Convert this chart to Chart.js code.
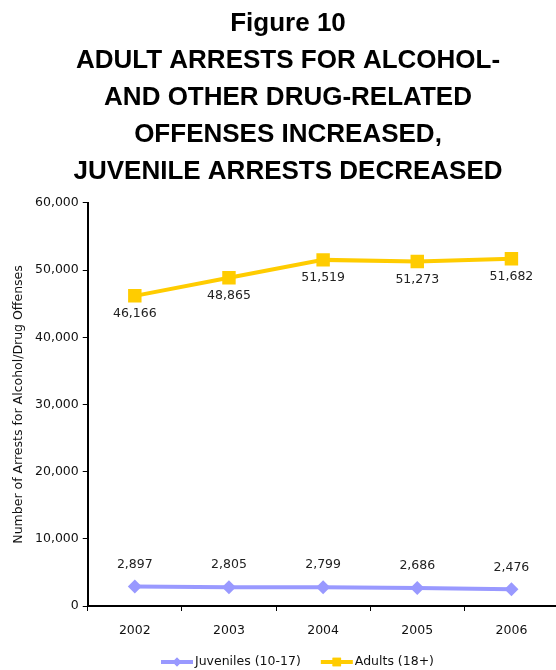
<!DOCTYPE html>
<html>
<head>
<meta charset="utf-8">
<script src="https://cdn.jsdelivr.net/npm/chart.js@4.4.1/dist/chart.umd.min.js"></script>
<style>
  html, body { margin: 0; padding: 0; background: #fff; overflow: hidden; }
  #chart { display: block; }
</style>
</head>
<body>
<canvas id="chart" width="568" height="670" style="width:568px;height:670px"></canvas>
<script>
const years = ['2002', '2003', '2004', '2005', '2006'];
const juveniles = [2897, 2805, 2799, 2686, 2476];
const adults = [46166, 48865, 51519, 51273, 51682];
const yTicks = [0, 10000, 20000, 30000, 40000, 50000, 60000];
const titleLines = ['Figure 10', 'ADULT ARRESTS FOR ALCOHOL-', 'AND OTHER DRUG-RELATED', 'OFFENSES INCREASED,', 'JUVENILE ARRESTS DECREASED'];

const FONT = "'DejaVu Sans', Verdana, sans-serif";
const fmt = v => v.toLocaleString('en-US');

// value labels: adults under the point, juveniles above
const valueLabels = {
  id: 'valueLabels',
  afterDatasetsDraw(chart) {
    const c = chart.ctx;
    c.save();
    c.font = '12.5px ' + FONT;
    c.fillStyle = '#222';
    c.textAlign = 'center';
    c.textBaseline = 'middle';
    chart.data.datasets.forEach((ds, i) => {
      const off = ds.label.startsWith('Adults') ? 18 : -22;
      chart.getDatasetMeta(i).data.forEach((pt, j) => {
        c.fillText(fmt(ds.data[j]), pt.x, pt.y + off);
      });
    });
    c.restore();
  }
};

// legend with line + marker, like the original
const lineLegend = {
  id: 'lineLegend',
  afterDraw(chart) {
    const c = chart.ctx;
    c.save();
    c.font = '12.5px ' + FONT;
    c.textBaseline = 'middle';
    let x = 161;
    const y = 662;
    chart.data.datasets.forEach(ds => {
      c.strokeStyle = ds.borderColor;
      c.lineWidth = 4;
      c.beginPath();
      c.moveTo(x, y);
      c.lineTo(x + 32, y);
      c.stroke();
      c.fillStyle = ds.borderColor;
      Chart.helpers.drawPoint(c, { pointStyle: ds.pointStyle, radius: ds.pointStyle === 'rect' ? 6 : 4.5, borderWidth: 0 }, x + 16, y);
      c.fill();
      c.fillStyle = '#111';
      c.fillText(ds.label, x + 34, y);
      x += 34 + c.measureText(ds.label).width + 20;
    });
    c.restore();
  }
};

new Chart(document.getElementById('chart'), {
  type: 'line',
  data: {
    labels: years,
    datasets: [
      {
        label: 'Juveniles (10-17)',
        data: juveniles,
        borderColor: '#9999FF',
        backgroundColor: '#9999FF',
        borderWidth: 4,
        pointStyle: 'rectRot',
        pointRadius: 7,
        pointHoverRadius: 7,
        pointBorderWidth: 0
      },
      {
        label: 'Adults (18+)',
        data: adults,
        borderColor: '#FFCC00',
        backgroundColor: '#FFCC00',
        borderWidth: 4,
        pointStyle: 'rect',
        pointRadius: 9.5,
        pointHoverRadius: 9.5,
        pointBorderWidth: 0
      }
    ]
  },
  options: {
    responsive: false,
    animation: false,
    layout: { padding: { left: 11, right: 3, top: 5, bottom: 20 } },
    plugins: {
      legend: { display: false },
      tooltip: { enabled: false },
      title: {
        display: true,
        text: titleLines,
        color: '#000',
        font: { family: "'Liberation Sans', Arial, sans-serif", size: 26, weight: 'bold', lineHeight: 1.43 },
        padding: { top: 0, bottom: 12 }
      }
    },
    scales: {
      x: {
        offset: true,
        grid: { offset: true, drawOnChartArea: false, tickLength: 5, color: '#000', lineWidth: 1 },
        border: { color: '#000', width: 2 },
        ticks: { color: '#111', font: { family: FONT, size: 12.5 }, padding: 12 }
      },
      y: {
        min: 0,
        max: 60000,
        afterBuildTicks: s => { s.ticks = yTicks.map(v => ({ value: v })); },
        grid: { drawOnChartArea: false, tickLength: 5, color: '#000', lineWidth: 1 },
        border: { color: '#000', width: 2 },
        ticks: { color: '#111', font: { family: FONT, size: 12.5 }, padding: 4, callback: v => fmt(v) },
        title: {
          display: true,
          text: 'Number of Arrests for Alcohol/Drug Offenses',
          color: '#111',
          font: { family: FONT, size: 12.5 },
          padding: { top: 0, bottom: 5 }
        }
      }
    }
  },
  plugins: [valueLabels, lineLegend]
});
</script>
</body>
</html>
